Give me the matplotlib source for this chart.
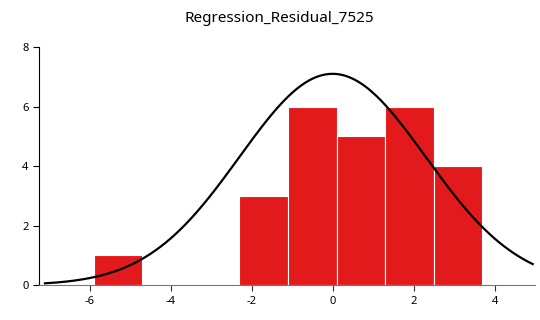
import numpy as np
import matplotlib
matplotlib.use("Agg")
import matplotlib.pyplot as plt

plt.rcParams['font.family'] = ['Noto Sans', 'DejaVu Sans']
plt.rcParams['axes.unicode_minus'] = False

# histogram of residuals (bin edges and counts)
bin_edges = [-5.9, -4.7, -3.5, -2.3, -1.1, 0.1, 1.3, 2.5, 3.7]
counts = [1, 0, 0, 3, 6, 5, 6, 4]

# normal curve overlay
curve_mean = 0.0
curve_sd = 2.3
curve_peak = 7.1
curve_range = (-7.1, 4.94)

fig = plt.figure(figsize=(5.4, 3.2), dpi=100)
ax = fig.add_axes([0.072, 0.109, 0.919, 0.744])

lefts = np.array(bin_edges[:-1])
widths = np.diff(bin_edges)
ax.bar(lefts, counts, width=widths, align="edge", color="#e31a1c",
       edgecolor="white", linewidth=0.8)

xs = np.linspace(curve_range[0], curve_range[1], 300)
ys = curve_peak * np.exp(-0.5 * ((xs - curve_mean) / curve_sd) ** 2)
ax.plot(xs, ys, color="black", linewidth=1.6)

ax.set_xlim(-7.25, 5.0)
ax.set_ylim(0, 8)
ax.set_xticks([-6, -4, -2, 0, 2, 4])
ax.set_yticks([0, 2, 4, 6, 8])
ax.spines["top"].set_visible(False)
ax.spines["right"].set_visible(False)
ax.spines["bottom"].set_color("#777777")
ax.tick_params(axis="both", labelsize=8, length=4, width=0.8)
ax.tick_params(axis="x", colors="#333333", labelcolor="black")

fig.suptitle("Regression_Residual_7525", x=0.518, y=0.965, fontsize=11)

fig.savefig("out.png", dpi=100)
